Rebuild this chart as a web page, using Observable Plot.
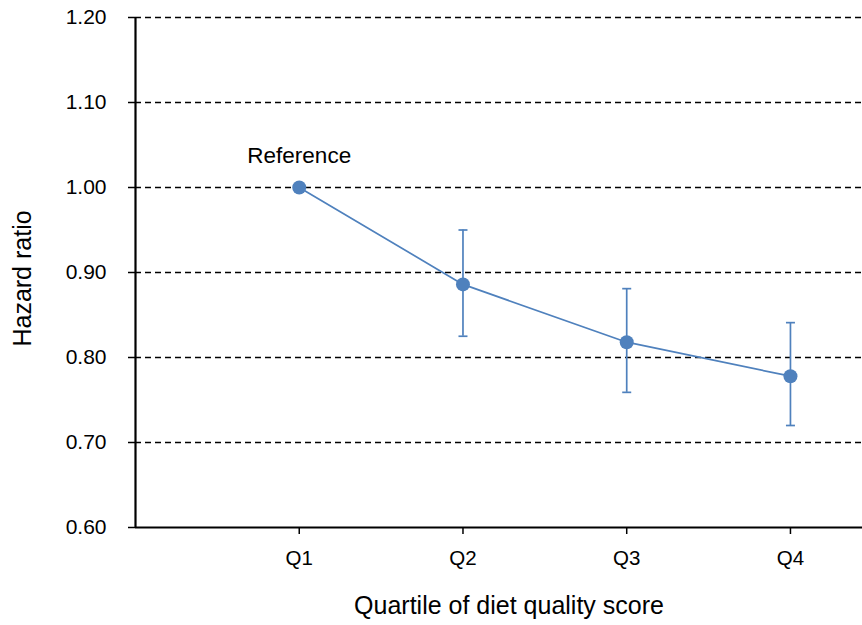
<!DOCTYPE html>
<html><head><meta charset="utf-8">
<script src="https://cdn.jsdelivr.net/npm/d3@7"></script>
<script src="https://cdn.jsdelivr.net/npm/@observablehq/plot@0.6"></script>
<style>
html,body{margin:0;padding:0;background:#fff;}
svg{font-family:"Liberation Sans",Arial,sans-serif;}
</style></head>
<body><div id="chart"></div>
<script>
const quartiles = ["Q1","Q2","Q3","Q4"];
const hazardRatio = [1.00, 0.886, 0.818, 0.778];
const lowerCI = [null, 0.825, 0.759, 0.720];
const upperCI = [null, 0.950, 0.881, 0.841];
const yTicks = [0.60, 0.70, 0.80, 0.90, 1.00, 1.10, 1.20];
const gridValues = [0.70, 0.80, 0.90, 1.00, 1.10, 1.20];
const refLabel = "Reference";

const data = quartiles.map((q,i)=>({x:i+1, q, hr:hazardRatio[i], lo:lowerCI[i], hi:upperCI[i]}));
const errData = data.filter(d=>d.lo!=null);
const blue = "#4F81BD";
const capSymbol = {draw(ctx, size){ const w = 4.5; ctx.moveTo(-w,0); ctx.lineTo(w,0); }};

const plot = Plot.plot({
  width: 862, height: 625,
  marginLeft: 135, marginRight: 0, marginTop: 17, marginBottom: 98,
  style: {fontFamily: '"Liberation Sans",Arial,sans-serif', fontSize: "20px", color: "#000", background: "#fff"},
  x: {type: "linear", domain: [0, 4.44], label: null},
  y: {domain: [0.60, 1.20], label: null},
  marks: [
    Plot.ruleY(gridValues, {stroke: "#000", strokeWidth: 1.3, strokeDasharray: "6,4"}),
    Plot.axisY({ticks: yTicks, tickFormat: d3.format(".2f"), tickSize: 7, tickPadding: 22, fontSize: 21, stroke: "#000", strokeWidth: 1.5, label: null}),
    Plot.axisX({ticks: [1,2,3,4], tickFormat: d => quartiles[d-1], tickSize: 7, tickPadding: 16, fontSize: 20.5, stroke: "#000", strokeWidth: 1.5, label: null}),
    Plot.ruleX([0], {stroke: "#000", strokeWidth: 2.2}),
    Plot.ruleY([0.60], {stroke: "#000", strokeWidth: 2.2}),
    Plot.ruleX(errData, {x: "x", y1: "lo", y2: "hi", stroke: blue, strokeWidth: 1.7}),
    Plot.dot(errData, {x: "x", y: "lo", symbol: capSymbol, stroke: blue, strokeWidth: 1.7, r: 5}),
    Plot.dot(errData, {x: "x", y: "hi", symbol: capSymbol, stroke: blue, strokeWidth: 1.7, r: 5}),
    Plot.line(data, {x: "x", y: "hr", stroke: blue, strokeWidth: 1.7}),
    Plot.dot(data, {x: "x", y: "hr", fill: blue, r: 7}),
    Plot.text([data[0]], {x: "x", y: "hr", text: () => refLabel, dy: -32, fontSize: 22.5, fill: "#000"}),
    Plot.text(["Hazard ratio"], {frameAnchor: "left", textAnchor: "middle", lineAnchor: "middle", dx: -113, dy: 6, rotate: -90, text: d => d, fontSize: 25, fill: "#000"}),
    Plot.text(["Quartile of diet quality score"], {frameAnchor: "bottom", dx: 10, dy: 86, text: d => d, fontSize: 25, fill: "#000"})
  ]
});
document.getElementById("chart").appendChild(plot);
</script></body></html>
